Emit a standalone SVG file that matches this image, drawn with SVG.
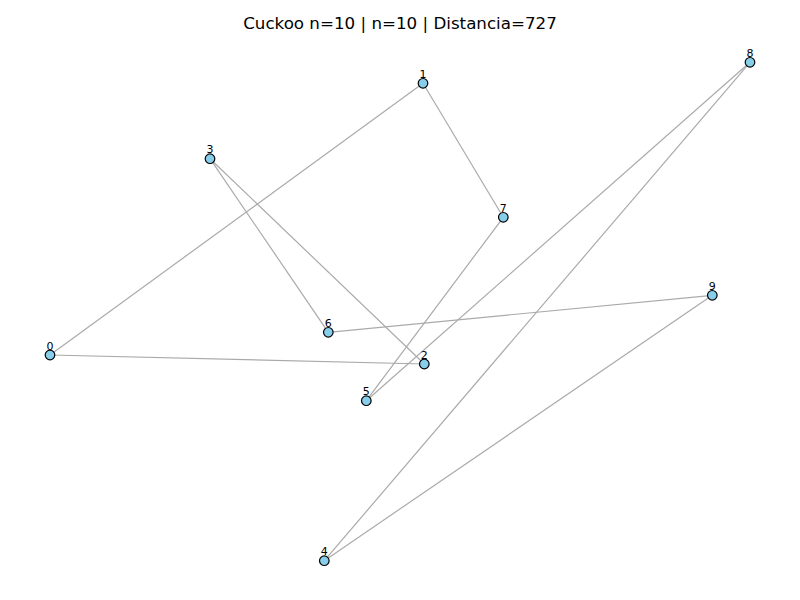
<svg xmlns="http://www.w3.org/2000/svg" width="800" height="600" viewBox="0 0 800 600">
<style>
.edge{stroke:#aaaaaa;stroke-width:1.2;fill:none}
.node circle{fill:#87ceeb;stroke:#000;stroke-width:1.2}
.node text{font-family:"DejaVu Sans",sans-serif;font-size:11px;fill:#000;text-anchor:middle}
.title{font-family:"DejaVu Sans",sans-serif;font-size:16.7px;fill:#000;text-anchor:middle}
</style>
<rect width="800" height="600" fill="#fff"/>
<text class="title" x="400" y="29">Cuckoo n=10 | n=10 | Distancia=727</text>
<g id="connectors">
<line class="edge" x1="50" y1="355" x2="423" y2="83.3"/>
<line class="edge" x1="423" y1="83.3" x2="503.3" y2="217.3"/>
<line class="edge" x1="503.3" y1="217.3" x2="366.3" y2="400.7"/>
<line class="edge" x1="366.3" y1="400.7" x2="750" y2="62.3"/>
<line class="edge" x1="750" y1="62.3" x2="324.3" y2="560.7"/>
<line class="edge" x1="324.3" y1="560.7" x2="712.3" y2="295.3"/>
<line class="edge" x1="712.3" y1="295.3" x2="328.3" y2="332.3"/>
<line class="edge" x1="328.3" y1="332.3" x2="210" y2="158.7"/>
<line class="edge" x1="210" y1="158.7" x2="424.3" y2="364"/>
<line class="edge" x1="424.3" y1="364" x2="50" y2="355"/>
</g>
<g id="node0" class="node"><circle cx="50" cy="355" r="4.8"/><text x="50" y="349.5">0</text></g>
<g id="node1" class="node"><circle cx="423" cy="83.3" r="4.8"/><text x="423" y="78">1</text></g>
<g id="node2" class="node"><circle cx="424.3" cy="364" r="4.8"/><text x="424.3" y="358.5">2</text></g>
<g id="node3" class="node"><circle cx="210" cy="158.7" r="4.8"/><text x="210" y="153.2">3</text></g>
<g id="node4" class="node"><circle cx="324.3" cy="560.7" r="4.8"/><text x="324.3" y="555.2">4</text></g>
<g id="node5" class="node"><circle cx="366.3" cy="400.7" r="4.8"/><text x="366.3" y="395.2">5</text></g>
<g id="node6" class="node"><circle cx="328.3" cy="332.3" r="4.8"/><text x="328.3" y="326.8">6</text></g>
<g id="node7" class="node"><circle cx="503.3" cy="217.3" r="4.8"/><text x="503.3" y="211.8">7</text></g>
<g id="node8" class="node"><circle cx="750" cy="62.3" r="4.8"/><text x="750" y="56.8">8</text></g>
<g id="node9" class="node"><circle cx="712.3" cy="295.3" r="4.8"/><text x="712.3" y="289.8">9</text></g>
</svg>
